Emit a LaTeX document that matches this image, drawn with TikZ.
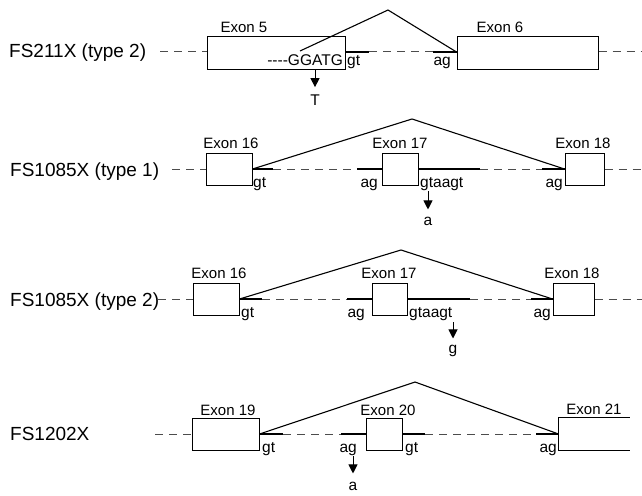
\documentclass[tikz,border=0pt]{standalone}
\usepackage{fontspec}
\setmainfont{Liberation Sans}
\usetikzlibrary{arrows.meta}
\begin{document}
\begin{tikzpicture}[x=1pt,y=-1pt,
  exon/.style={draw, line width=1pt, inner sep=0pt, minimum height=32pt, fill=white},
  intron/.style={dash pattern=on 8pt off 6pt, line width=1pt, draw=black!70},
  site/.style={line width=2.6pt},
  splice/.style={line width=1.1pt},
  mut/.style={-{Triangle[width=9pt,length=9pt]}, line width=1pt},
  rowlab/.style={font=\fontsize{19}{21}\selectfont, anchor=base west, inner sep=0pt},
  exlab/.style={font=\fontsize{15}{17}\selectfont, anchor=base, inner sep=0pt},
  seq/.style={font=\fontsize{15.5}{17}\selectfont, inner sep=0pt},
]
\useasboundingbox (0,0) rectangle (642,495);

% ---------------- Row 1
\node[rowlab] (r1) at (9,58) {FS211X (type 2)};
\node[exon, minimum width=138pt] (e5) at (276,53) {};
\node[exon, minimum width=141pt] (e6) at (527.5,53) {};
\coordinate (r1s) at (160,52);
\coordinate (r1e) at (642,52);
\coordinate (a1) at (369,52);
\coordinate (b1) at (433,52);
\draw[intron] (r1s) -- (e5.west |- r1s);
\draw[site] (e5.east |- r1s) -- (a1);
\draw[intron] (a1) -- (b1);
\draw[site] (b1) -- (e6.west |- r1s);
\draw[intron] (e6.east |- r1s) -- (r1e);
\coordinate (s1) at (300,51);
\coordinate (p1) at (388,10);
\draw[splice] (s1) -- (p1) -- (e6.west |- r1s);
\node[exlab] (l5) at (244,33) {Exon 5};
\node[exlab] (l6) at (500,33) {Exon 6};
\node[seq, anchor=base east] (gg) at (343,66) {-{}-{}-{}-GGATG};
\node[seq, anchor=base west] (gt1) at (347,66) {gt};
\node[seq, anchor=base east] (ag1) at (451,66) {ag};
\node[seq, anchor=base] (mT) at (315,105) {T};
\coordinate (m1) at (315,69);
\draw[mut] (m1) -- ([yshift=7pt]mT.north);

% ---------------- Row 2
\node[rowlab] (r2) at (10,176) {FS1085X (type 1)};
\node[exon, minimum width=46pt] (f16) at (229,169) {};
\node[exon, minimum width=36pt] (f17) at (400,169) {};
\node[exon, minimum width=39pt] (f18) at (584.5,169) {};
\coordinate (r2s) at (172,169);
\coordinate (r2e) at (642,169);
\coordinate (a2) at (273,169);
\coordinate (b2) at (357,169);
\coordinate (c2) at (480,169);
\coordinate (d2) at (542,169);
\draw[intron] (r2s) -- (f16.west);
\draw[site] (f16.east) -- (a2);
\draw[intron] (a2) -- (b2);
\draw[site] (b2) -- (f17.west);
\draw[site] (f17.east) -- (c2);
\draw[intron] (c2) -- (d2);
\draw[site] (d2) -- (f18.west);
\draw[intron] (f18.east) -- (r2e);
\coordinate (p2) at (412,119);
\draw[splice] (f16.east) -- (p2) -- (f18.west);
\node[exlab] (l16a) at (231,148) {Exon 16};
\node[exlab] (l17a) at (400,148) {Exon 17};
\node[exlab] (l18a) at (583,148) {Exon 18};
\node[seq, anchor=base west] (gt2) at (253,187) {gt};
\node[seq, anchor=base east] (ag2) at (378,187) {ag};
\node[seq, anchor=base west] (gta2) at (420,187) {gtaagt};
\node[seq, anchor=base east] (ag2b) at (563,187) {ag};
\node[seq, anchor=base] (ma2) at (428,225) {a};
\coordinate (m2) at (428,191);
\draw[mut] (m2) -- ([yshift=7pt]ma2.north);

% ---------------- Row 3
\node[rowlab] (r3) at (10,306) {FS1085X (type 2)};
\node[exon, minimum width=46pt] (g16) at (216,299) {};
\node[exon, minimum width=35pt] (g17) at (389.5,299) {};
\node[exon, minimum width=41pt] (g18) at (573.5,299) {};
\coordinate (r3s) at (158,299);
\coordinate (r3e) at (642,299);
\coordinate (a3) at (262,299);
\coordinate (b3) at (347,299);
\coordinate (c3) at (470,299);
\coordinate (d3) at (531,299);
\draw[intron] (r3s) -- (g16.west);
\draw[site] (g16.east) -- (a3);
\draw[intron] (a3) -- (b3);
\draw[site] (b3) -- (g17.west);
\draw[site] (g17.east) -- (c3);
\draw[intron] (c3) -- (d3);
\draw[site] (d3) -- (g18.west);
\draw[intron] (g18.east) -- (r3e);
\coordinate (p3) at (401,250);
\draw[splice] (g16.east) -- (p3) -- (g18.west);
\node[exlab] (l16b) at (219,278) {Exon 16};
\node[exlab] (l17b) at (389,278) {Exon 17};
\node[exlab] (l18b) at (572,278) {Exon 18};
\node[seq, anchor=base west] (gt3) at (241,317) {gt};
\node[seq, anchor=base east] (ag3) at (365,317) {ag};
\node[seq, anchor=base west] (gta3) at (409,317) {gtaagt};
\node[seq, anchor=base east] (ag3b) at (551,317) {ag};
\node[seq, anchor=base] (mg3) at (453,353) {g};
\coordinate (m3) at (453,322);
\draw[mut] (m3) -- ([yshift=6pt]mg3.north);

% ---------------- Row 4
\node[rowlab] (r4) at (10,440) {FS1202X};
\node[exon, minimum width=67pt] (h19) at (225.5,434) {};
\node[exon, minimum width=36pt] (h20) at (384,434) {};
\node[exon, draw=none, fill=none, minimum width=70pt] (h21) at (594,434) {};
\draw[line width=1pt] (h21.north east) -- (h21.north west) -- (h21.south west) -- (h21.south east);
\coordinate (r4s) at (155,434);
\coordinate (a4) at (283,434);
\coordinate (b4) at (341,434);
\coordinate (c4) at (425,434);
\coordinate (d4) at (536,434);
\draw[intron] (r4s) -- (h19.west);
\draw[site] (h19.east) -- (a4);
\draw[intron] (a4) -- (b4);
\draw[site] (b4) -- (h20.west);
\draw[site] (h20.east) -- (c4);
\draw[intron] (c4) -- (d4);
\draw[site] (d4) -- (h21.west);
\coordinate (p4) at (415,382);
\draw[splice] (h19.east) -- (p4) -- (h21.west);
\node[exlab] (l19) at (228,415) {Exon 19};
\node[exlab] (l20) at (388,415) {Exon 20};
\node[exlab] (l21) at (594,414) {Exon 21};
\node[seq, anchor=base west] (gt4) at (262,452) {gt};
\node[seq, anchor=base east] (ag4) at (357,452) {ag};
\node[seq, anchor=base west] (gt4b) at (405,452) {gt};
\node[seq, anchor=base east] (ag4b) at (557,452) {ag};
\node[seq, anchor=base] (ma4) at (353,490) {a};
\coordinate (m4) at (353,456);
\draw[mut] (m4) -- ([yshift=8pt]ma4.north);
\end{tikzpicture}
\end{document}
